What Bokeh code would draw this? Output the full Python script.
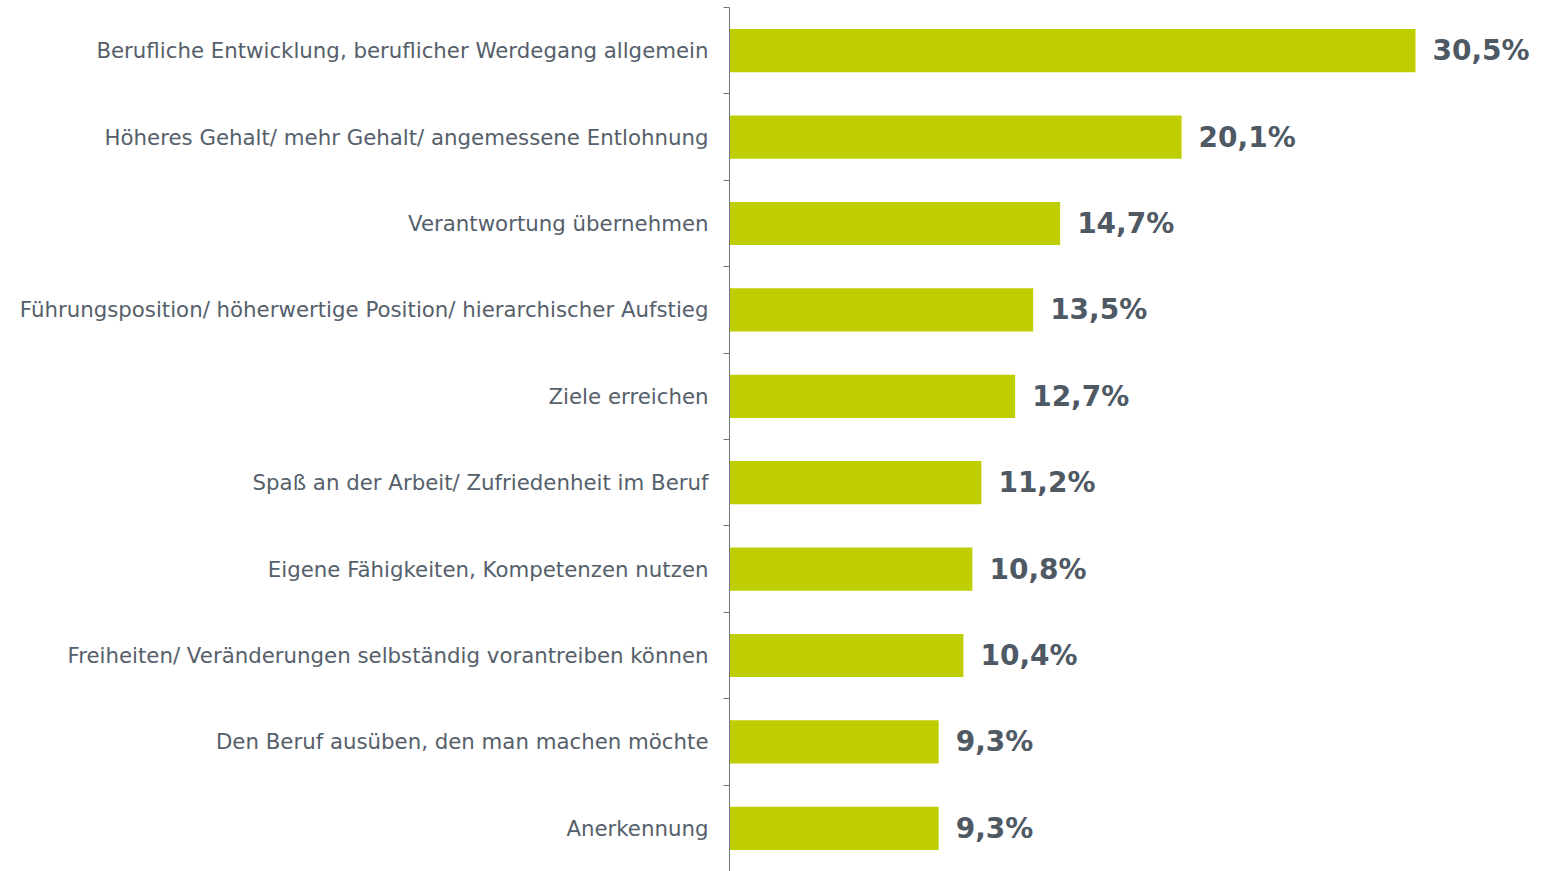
from bokeh.plotting import figure
from bokeh.models import ColumnDataSource, FixedTicker, CustomJSTickFormatter
from bokeh.embed import file_html
from bokeh.resources import INLINE
from bokeh.core.properties import value

categories = [
    "Berufliche Entwicklung, beruflicher Werdegang allgemein",
    "Höheres Gehalt/ mehr Gehalt/ angemessene Entlohnung",
    "Verantwortung übernehmen",
    "Führungsposition/ höherwertige Position/ hierarchischer Aufstieg",
    "Ziele erreichen",
    "Spaß an der Arbeit/ Zufriedenheit im Beruf",
    "Eigene Fähigkeiten, Kompetenzen nutzen",
    "Freiheiten/ Veränderungen selbständig vorantreiben können",
    "Den Beruf ausüben, den man machen möchte",
    "Anerkennung",
]
values = [30.5, 20.1, 14.7, 13.5, 12.7, 11.2, 10.8, 10.4, 9.3, 9.3]
labels = ["30,5%", "20,1%", "14,7%", "13,5%", "12,7%", "11,2%", "10,8%", "10,4%", "9,3%", "9,3%"]

n = len(categories)
# numeric positions: first category on top
ypos = [n - 1 - i + 0.5 for i in range(n)]

src = ColumnDataSource(dict(y=ypos, v=values, lab=labels, cat=categories))

p = figure(width=1545, height=871, x_range=(0, 36.28), y_range=(0, n),
           output_backend="svg", toolbar_location=None,
           min_border_left=729, min_border_right=0, min_border_top=7, min_border_bottom=0)

p.hbar(y="y", right="v", left=0, height=0.5, source=src,
       fill_color="#BFCE00", line_color=None)

p.text(x="v", y="y", text="lab", source=src, x_offset=17,
       text_font=value("DejaVu Sans"), text_font_style="bold",
       text_font_size="28px", text_color="#4E5964",
       text_baseline="middle", text_align="left")

p.xaxis.visible = False
p.xgrid.visible = False
p.ygrid.visible = False
p.outline_line_color = None

yax = p.yaxis[0]
yax.ticker = FixedTicker(ticks=[i + 0.5 for i in range(n)], minor_ticks=list(range(n + 1)))
label_map = {str(ypos[i]): categories[i] for i in range(n)}
yax.formatter = CustomJSTickFormatter(args=dict(m=label_map), code="""
const k = String(tick);
return (k in m) ? m[k] : "";
""")
yax.major_tick_line_color = None
yax.minor_tick_out = 6
yax.minor_tick_in = 0
yax.minor_tick_line_color = "#6E7780"
yax.minor_tick_line_width = 1
yax.axis_line_color = "#6E7780"
yax.axis_line_width = 1
yax.major_label_standoff = 15
yax.major_label_text_font = "DejaVu Sans"
yax.major_label_text_font_size = "21.3px"
yax.major_label_text_color = "#55606B"

open("out.html", "w").write(file_html(p, INLINE))
